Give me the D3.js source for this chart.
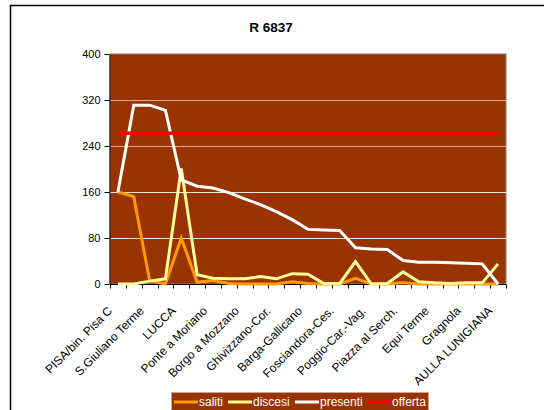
<!DOCTYPE html>
<html>
<head>
<meta charset="utf-8">
<script src="https://cdn.jsdelivr.net/npm/d3@7"></script>
<style>
  body { margin: 0; background: #fff; }
  svg { display: block; font-family: "Liberation Sans", Arial, sans-serif; }
  .axis text { fill: #000; font-size: 11px; }
  .axis path, .axis line { stroke: #000; }
</style>
</head>
<body>
<svg width="544" height="410"></svg>
<script>
// stations (only every other one gets a label in the original)
var stations = ["PISA/bin. Pisa C", "Pisa S.Rossore", "S.Giuliano Terme", "Ripafratta", "LUCCA",
  "S.Pietro a Vico", "Ponte a Moriano", "Diecimo-Pescaglia", "Borgo a Mozzano", "Bagni di Lucca",
  "Ghivizzano-Cor.", "Fornaci di Barga", "Barga-Gallicano", "Castelvecchio P.", "Fosciandora-Ces.",
  "Castelnuovo Garf.", "Poggio-Car.-Vag.", "Villetta S.Romano", "Piazza al Serch.", "Minucciano-P.-C.",
  "Equi Terme", "Monzone", "Gragnola", "Fivizzano-R.-S.", "AULLA LUNIGIANA"];
var saliti   = [160, 152, 6, 0, 80, 3, 6, 1, 0, 0, 0, 4, 1, 0, 0, 10, 0, 0, 2, 0, 0, 0, 0, 0, 0];
var discesi  = [0, 0, 5, 9, 201, 16, 10, 9, 9, 13, 9, 18, 17, 1, 1, 39, 0, 1, 21, 4, 2, 1, 2, 2, 35];
var presenti = [160, 311, 311, 302, 181, 170, 167, 159, 148, 138, 126, 112, 95, 94, 93, 63, 61, 60, 41, 38, 38, 37, 36, 35, 0];
var offerta  = stations.map(function() { return 262; });
var yTicks = [0, 80, 160, 240, 320, 400];

var series = [
  { name: "saliti", values: saliti, color: "#FF9900" },
  { name: "discesi", values: discesi, color: "#FFFF99" },
  { name: "presenti", values: presenti, color: "#FFFFFF" },
  { name: "offerta", values: offerta, color: "#FF0000" }
];

var svg = d3.select("svg");
var plot = { left: 110, right: 506, top: 54, bottom: 284 };

// outer chart frame (runs off the page on the right and bottom)
svg.append("rect")
  .attr("x", 10.5).attr("y", 5.5)
  .attr("width", 700).attr("height", 600)
  .attr("fill", "none").attr("stroke", "#000").attr("stroke-width", 1.5);

svg.append("text")
  .attr("x", 271).attr("y", 32)
  .attr("text-anchor", "middle")
  .style("font-size", "13.5px").style("font-weight", "bold")
  .text("R 6837");

var xScale = d3.scaleBand().domain(stations).range([plot.left, plot.right]);
var yScale = d3.scaleLinear().domain([0, 400]).range([plot.bottom, plot.top]);
var half = xScale.bandwidth() / 2;

// plot background
svg.append("rect")
  .attr("x", plot.left).attr("y", plot.top)
  .attr("width", plot.right - plot.left).attr("height", plot.bottom - plot.top)
  .attr("fill", "#993300")
  .attr("stroke", "#808080");

// gridlines
svg.append("g").selectAll("line")
  .data(yTicks.slice(1, -1))
  .enter().append("line")
  .attr("x1", plot.left).attr("x2", plot.right)
  .attr("y1", function(d) { return Math.round(yScale(d)) + 0.5; })
  .attr("y2", function(d) { return Math.round(yScale(d)) + 0.5; })
  .attr("stroke", function(d) { return d > 200 ? "#d8a898" : "#f2e4de"; })
  .attr("stroke-width", 1);

// y axis
svg.append("g")
  .attr("class", "axis")
  .attr("transform", "translate(" + (plot.left - 0.5) + ",0)")
  .call(d3.axisLeft(yScale).tickValues(yTicks).tickSize(5).tickPadding(4).tickSizeOuter(0));

// x axis: labels on every other station, tick marks between stations
var xAxis = d3.axisBottom(xScale)
  .tickSize(0)
  .tickFormat(function(d, i) { return i % 2 === 0 ? d : ""; });
var gx = svg.append("g")
  .attr("class", "axis")
  .attr("transform", "translate(0," + (plot.bottom + 0.5) + ")")
  .call(xAxis);
gx.select(".domain").attr("d", "M" + plot.left + ",0H" + plot.right);
gx.selectAll(".tick text")
  .style("font-size", "12px")
  .attr("text-anchor", "end")
  .attr("transform", "translate(-11,21) rotate(-45)")
  .attr("dy", "0.71em").attr("y", 0);

var bounds = stations.map(function(s) { return xScale(s); }).concat([plot.right]);
gx.selectAll(".bound")
  .data(bounds)
  .enter().append("line")
  .attr("class", "bound")
  .attr("x1", function(d) { return Math.round(d) + 0.5; })
  .attr("x2", function(d) { return Math.round(d) + 0.5; })
  .attr("y1", 0).attr("y2", 4)
  .attr("stroke", "#000");

// lines
var line = d3.line()
  .x(function(d, i) { return xScale(stations[i]) + half; })
  .y(function(d) { return yScale(d); });

svg.append("g").selectAll("path")
  .data(series)
  .enter().append("path")
  .attr("d", function(s) { return line(s.values); })
  .attr("fill", "none")
  .attr("stroke", function(s) { return s.color; })
  .attr("stroke-width", function(s) { return s.name === "offerta" ? 3.5 : 3; })
  .attr("stroke-linejoin", "miter");

// legend
var legend = svg.append("g").attr("transform", "translate(171,392)");
legend.append("rect")
  .attr("x", 0.5).attr("y", 0.5).attr("width", 257).attr("height", 30)
  .attr("fill", "#993300").attr("stroke", "#c8a898");
var legendX = [3, 57, 124, 196];
var items = legend.selectAll(".item")
  .data(series)
  .enter().append("g")
  .attr("class", "item")
  .attr("transform", function(d, i) { return "translate(" + legendX[i] + ",10)"; });
items.append("line")
  .attr("x1", 0).attr("x2", 24).attr("y1", 0).attr("y2", 0)
  .attr("stroke", function(d) { return d.color; })
  .attr("stroke-width", 3);
items.append("text")
  .attr("x", 25).attr("dy", "0.36em")
  .attr("fill", "#fff")
  .style("font-size", "12px")
  .text(function(d) { return d.name; });
</script>
</body>
</html>
